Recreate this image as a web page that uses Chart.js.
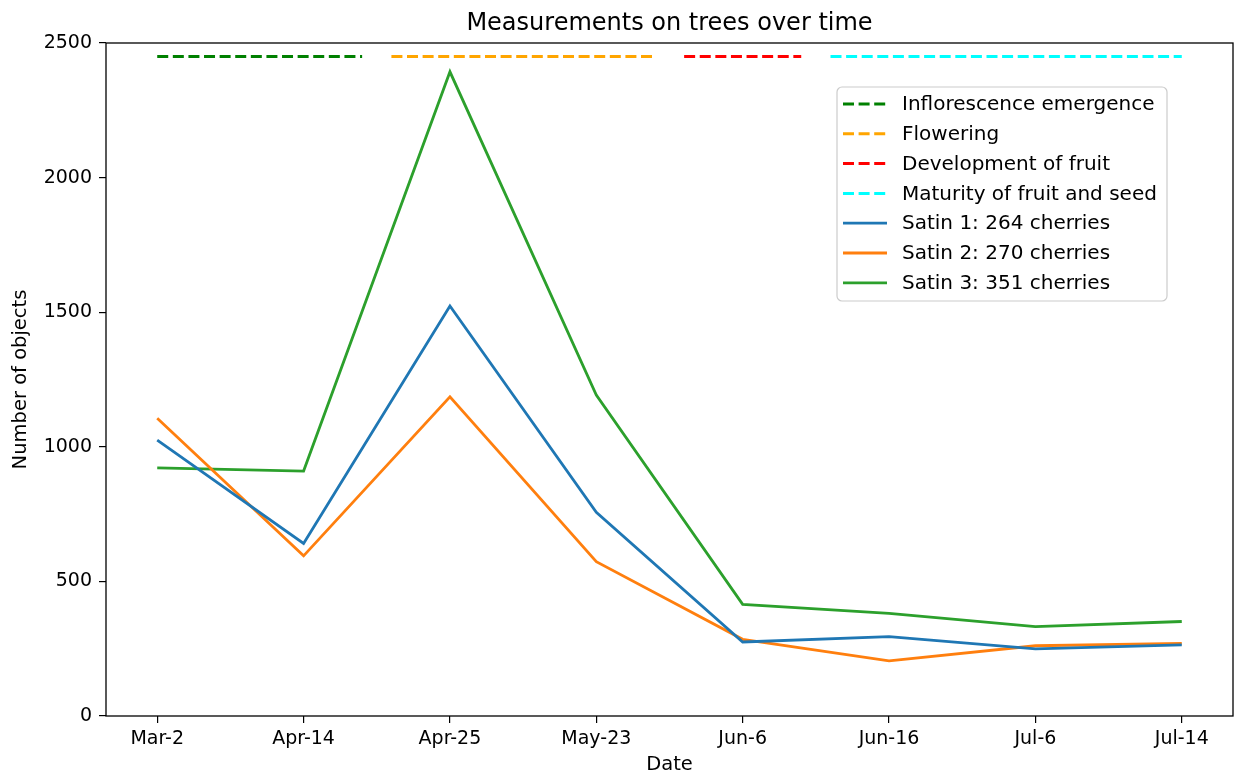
<!DOCTYPE html>
<html>
<head>
<meta charset="utf-8">
<script src="https://cdn.jsdelivr.net/npm/chart.js@4/dist/chart.umd.min.js"></script>
<style>
  html, body { margin: 0; padding: 0; background: #fff; }
  #wrap { width: 1235px; height: 778px; }
</style>
</head>
<body>
<div id="wrap"><canvas id="treeChart"></canvas></div>
<script>
// Sampling dates (evenly spaced on the axis)
const dateLabels = ['Mar-2', 'Apr-14', 'Apr-25', 'May-23', 'Jun-6', 'Jun-16', 'Jul-6', 'Jul-14'];

// Object counts per tree
const satin1 = [1025, 641, 1523, 757, 275, 295, 249, 264];
const satin2 = [1106, 595, 1186, 573, 285, 205, 261, 270];
const satin3 = [922, 910, 2393, 1192, 415, 381, 332, 351];
const satinNames = ['Satin 1: 264 cherries', 'Satin 2: 270 cherries', 'Satin 3: 351 cherries'];

// Phenological phases (start / end as positions on the date axis)
const phaseNames = ['Inflorescence emergence', 'Flowering', 'Development of fruit', 'Maturity of fruit and seed'];
const phaseStarts = [0, 1.6, 3.6, 4.6];
const phaseEnds = [1.4, 3.4, 4.4, 7];
const phaseLevel = 2450;

const yTicks = [0, 500, 1000, 1500, 2000, 2500];

const FONT = 'DejaVu Sans';
const phaseColors = ['#008000', '#ffa500', '#ff0000', '#00ffff'];
const satinColors = ['#1f77b4', '#ff7f0e', '#2ca02c'];

function toPoints(values) {
    return values.map((v, i) => ({ x: i, y: v }));
}

const datasets = [];
phaseNames.forEach((name, i) => {
    datasets.push({
        label: name,
        data: [{ x: phaseStarts[i], y: phaseLevel }, { x: phaseEnds[i], y: phaseLevel }],
        borderColor: phaseColors[i],
        borderWidth: 3,
        borderDash: [11, 4.6],
        pointRadius: 0,
        fill: false
    });
});
[satin1, satin2, satin3].forEach((values, i) => {
    datasets.push({
        label: satinNames[i],
        data: toPoints(values),
        borderColor: satinColors[i],
        borderWidth: 2.8,
        pointRadius: 0,
        tension: 0,
        fill: false
    });
});

// Title over the plot, frame round it and a matplotlib-like legend inside
const framePlugin = {
    id: 'frame',
    afterDraw(chart) {
        const { ctx, chartArea: a } = chart;
        ctx.save();
        ctx.strokeStyle = '#000';
        ctx.lineWidth = 1.3;
        ctx.strokeRect(a.left, a.top, a.right - a.left, a.bottom - a.top);

        ctx.fillStyle = '#000';
        ctx.font = '24px "' + FONT + '"';
        ctx.textAlign = 'center';
        ctx.textBaseline = 'alphabetic';
        ctx.fillText('Measurements on trees over time', (a.left + a.right) / 2, 30);

        // legend
        const bx = a.right - 396, by = a.top + 44, bw = 330, bh = 214, r = 5;
        ctx.beginPath();
        ctx.roundRect(bx, by, bw, bh, r);
        ctx.fillStyle = 'rgba(255,255,255,0.8)';
        ctx.fill();
        ctx.strokeStyle = '#cccccc';
        ctx.lineWidth = 1.2;
        ctx.stroke();

        ctx.font = '20px "' + FONT + '"';
        ctx.textBaseline = 'middle';
        ctx.textAlign = 'left';
        chart.data.datasets.forEach((ds, i) => {
            const y = by + 17 + i * 29.8;
            ctx.beginPath();
            ctx.setLineDash(ds.borderDash || []);
            ctx.strokeStyle = ds.borderColor;
            ctx.lineWidth = ds.borderWidth;
            ctx.moveTo(bx + 6, y);
            ctx.lineTo(bx + 50, y);
            ctx.stroke();
            ctx.setLineDash([]);
            ctx.fillStyle = '#000';
            ctx.fillText(ds.label, bx + 65, y + 1);
        });
        ctx.restore();
    }
};

const ctx = document.getElementById('treeChart').getContext('2d');
new Chart(ctx, {
    type: 'line',
    data: { datasets: datasets },
    options: {
        responsive: true,
        maintainAspectRatio: false,
        animation: false,
        layout: { padding: { right: 2, left: 0, top: 43, bottom: 0 } },
        plugins: {
            legend: { display: false },
            tooltip: { enabled: false },
            title: { display: false }
        },
        scales: {
            x: {
                type: 'linear',
                min: -0.35,
                max: 7.35,
                afterBuildTicks: scale => {
                    scale.ticks = dateLabels.map((_, i) => ({ value: i }));
                },
                afterFit: scale => { scale.height = 62; },
                ticks: {
                    color: '#000',
                    font: { family: FONT, size: 19 },
                    padding: 5,
                    maxRotation: 0,
                    autoSkip: false,
                    callback: value => dateLabels[value]
                },
                grid: { drawOnChartArea: false, drawTicks: true, tickLength: 7, color: '#000', lineWidth: 1.2 },
                border: { display: false },
                title: {
                    display: true,
                    text: 'Date',
                    color: '#000',
                    font: { family: FONT, size: 19.5 },
                    padding: { top: 0, bottom: 1 }
                }
            },
            y: {
                min: 0,
                max: 2500,
                afterBuildTicks: scale => {
                    scale.ticks = yTicks.map(v => ({ value: v }));
                },
                afterFit: scale => { scale.width = 106; },
                ticks: {
                    color: '#000',
                    font: { family: FONT, size: 19 },
                    padding: 7,
                    callback: value => String(value)
                },
                grid: { drawOnChartArea: false, drawTicks: true, tickLength: 7, color: '#000', lineWidth: 1.2 },
                border: { display: false },
                title: {
                    display: true,
                    text: 'Number of objects',
                    color: '#000',
                    font: { family: FONT, size: 19.5 },
                    padding: { top: 9, bottom: 0 }
                }
            }
        }
    },
    plugins: [framePlugin]
});
</script>
</body>
</html>
